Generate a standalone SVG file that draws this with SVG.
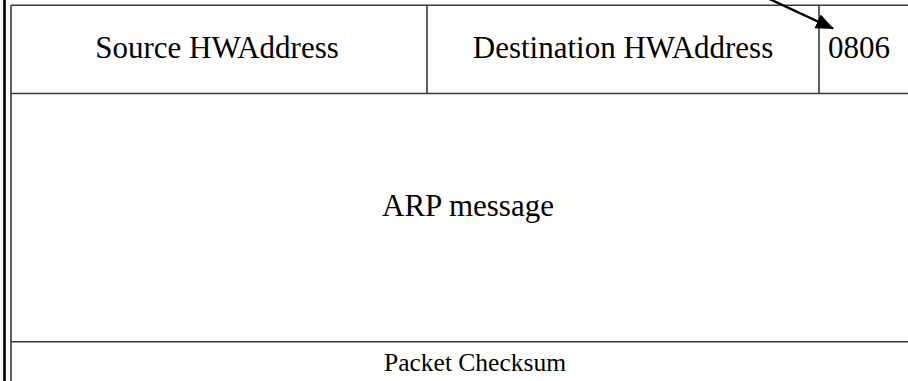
<svg xmlns="http://www.w3.org/2000/svg" width="908" height="381" viewBox="0 0 908 381">
<style>
.ln{stroke:#3a3a3a;stroke-width:1.6;fill:none}
.t{font-family:"Liberation Serif","Times New Roman",serif;fill:#000}
.big{font-size:31px}
.sm{font-size:25.5px}
</style>
<defs>
<marker id="ah" markerUnits="userSpaceOnUse" markerWidth="18" markerHeight="15" viewBox="0 0 18 15" refX="17" refY="7.5" orient="auto">
<path d="M0,0 L18,7.5 L0,15 z" fill="#000"/>
</marker>
</defs>
<rect width="908" height="381" fill="#fff"/>
<g id="frame">
<line x1="4.5" y1="0" x2="4.5" y2="381" stroke="#000" stroke-width="2.6"/>
<line class="ln" x1="11" y1="5.3" x2="11" y2="381" stroke="#555"/>
<line class="ln" x1="11" y1="5.3" x2="908" y2="5.3"/>
</g>
<g id="source">
<text class="t big" x="217" y="58" text-anchor="middle">Source HWAddress</text>
</g>
<g id="destination">
<line class="ln" x1="427" y1="5.3" x2="427" y2="93.5"/>
<text class="t big" x="623" y="58" text-anchor="middle">Destination HWAddress</text>
</g>
<g id="type">
<line class="ln" x1="819" y1="5.3" x2="819" y2="93.5"/>
<text class="t big" x="828" y="58">0806</text>
</g>
<g id="arp">
<line class="ln" x1="11" y1="93.5" x2="908" y2="93.5"/>
<text class="t big" x="382" y="216">ARP message</text>
</g>
<g id="checksum">
<line class="ln" x1="11" y1="341.7" x2="908" y2="341.7"/>
<text class="t sm" x="475" y="371" text-anchor="middle">Packet Checksum</text>
</g>
<g id="connectors">
<line x1="760.8" y1="-5" x2="833" y2="28.5" stroke="#000" stroke-width="2.4" marker-end="url(#ah)"/>
</g>
</svg>
